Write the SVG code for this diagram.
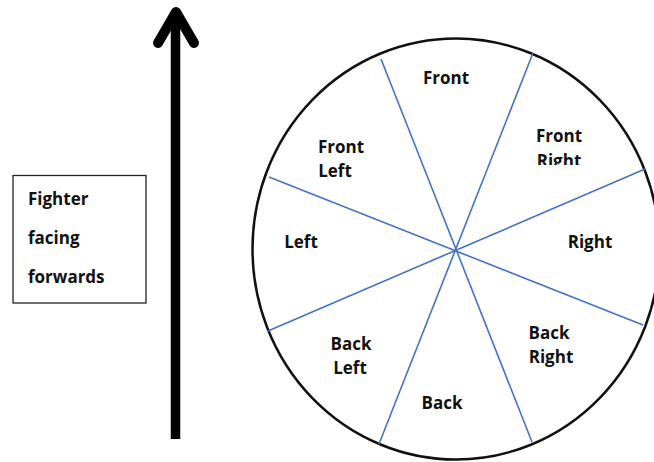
<svg xmlns="http://www.w3.org/2000/svg" width="654" height="462" viewBox="0 0 654 462">
<style>
text{font-family:"Open Sans","Noto Sans",sans-serif;font-weight:700;font-size:17px;fill:#111}
.lbl{text-anchor:middle}
.div{stroke:#4472C4;stroke-width:1.6;fill:none}
</style>
<defs><clipPath id="frc"><rect x="520" y="120" width="80" height="45"/></clipPath></defs>
<rect width="654" height="462" fill="#fff"/>
<g id="arrow">
<line x1="175.5" y1="439" x2="175.5" y2="16" stroke="#000" stroke-width="9.5"/>
<polyline points="158,43 176,12 194,43" fill="none" stroke="#000" stroke-width="10" stroke-linecap="round" stroke-linejoin="round"/>
</g>
<g id="caption">
<rect x="13" y="175.5" width="133" height="127.5" fill="#fff" stroke="#222" stroke-width="1.3"/>
<text x="28" y="205">Fighter</text>
<text x="28" y="244">facing</text>
<text x="28" y="283">forwards</text>
</g>
<g id="circle">
<ellipse cx="456" cy="249" rx="203.5" ry="210.5" fill="#fff" stroke="#111" stroke-width="2.5"/>
</g>
<g id="connectors">
<line class="div" x1="381" y1="59" x2="532" y2="442"/>
<line class="div" x1="533" y1="53" x2="379" y2="444"/>
<line class="div" x1="269" y1="177" x2="643" y2="325"/>
<line class="div" x1="268" y1="331" x2="645" y2="169"/>
</g>
<g id="front"><text class="lbl" x="446" y="84">Front</text></g>
<g id="front-right" clip-path="url(#frc)"><text class="lbl" x="559" y="142">Front</text><text class="lbl" x="559" y="167">Right</text></g>
<g id="right"><text class="lbl" x="590" y="248">Right</text></g>
<g id="back-right"><text class="lbl" x="549" y="339">Back</text><text class="lbl" x="551" y="363">Right</text></g>
<g id="back"><text class="lbl" x="442" y="409">Back</text></g>
<g id="back-left"><text class="lbl" x="351" y="350">Back</text><text class="lbl" x="350" y="374">Left</text></g>
<g id="left"><text class="lbl" x="301" y="248">Left</text></g>
<g id="front-left"><text class="lbl" x="341" y="153">Front</text><text class="lbl" x="335" y="177">Left</text></g>
</svg>
